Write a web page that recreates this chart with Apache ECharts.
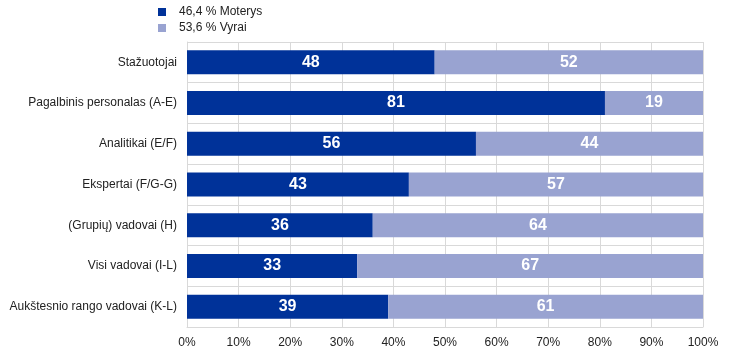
<!DOCTYPE html>
<html><head><meta charset="utf-8">
<script src="https://cdn.jsdelivr.net/npm/echarts@6/dist/echarts.min.js"></script>
<style>html,body{margin:0;padding:0;background:#fff}#c{width:744px;height:357px}</style>
</head><body><div id="c"></div>
<script>
const categories = ["Stažuotojai","Pagalbinis personalas (A-E)","Analitikai (E/F)","Ekspertai (F/G-G)","(Grupių) vadovai (H)","Visi vadovai (I-L)","Aukštesnio rango vadovai (K-L)"];
const women = [48,81,56,43,36,33,39];
const men = [52,19,44,57,64,67,61];
const legendNames = ["46,4 % Moterys","53,6 % Vyrai"];
const xTicks = [0,10,20,30,40,50,60,70,80,90,100];

const chart = echarts.init(document.getElementById('c'));
const lbl = {show:true,position:'inside',color:'#fff',fontWeight:'bold',fontSize:16,fontFamily:'Arial, Liberation Sans'};
chart.setOption({
  animation:false,
  textStyle:{fontFamily:'Arial, Liberation Sans'},
  legend:{orient:'vertical',left:153,top:1,itemWidth:8,itemHeight:8,itemGap:4,icon:'rect',
    textStyle:{fontSize:12,color:'#222',padding:[0,0,0,8]},data:legendNames},
  grid:{left:187,right:41,top:42,bottom:30},
  xAxis:{type:'value',min:0,max:100,interval:10,
    axisLabel:{formatter:v=>v+'%',fontSize:12,color:'#222',margin:10},
    axisLine:{show:true,lineStyle:{color:'#d9d9d9'}},axisTick:{show:false},
    splitLine:{show:true,lineStyle:{color:'#d9d9d9'}}},
  yAxis:{type:'category',data:categories,inverse:true,
    axisLabel:{fontSize:12,color:'#222',margin:10},
    axisLine:{show:true,lineStyle:{color:'#d9d9d9'}},axisTick:{show:false},
    splitLine:{show:true,lineStyle:{color:'#d9d9d9'}}},
  series:[
    {name:legendNames[0],type:'bar',stack:'a',data:women,barWidth:24,itemStyle:{color:'#003299'},label:lbl},
    {name:legendNames[1],type:'bar',stack:'a',data:men,barWidth:24,itemStyle:{color:'#99a3d1'},label:lbl}
  ]
});
</script></body></html>
